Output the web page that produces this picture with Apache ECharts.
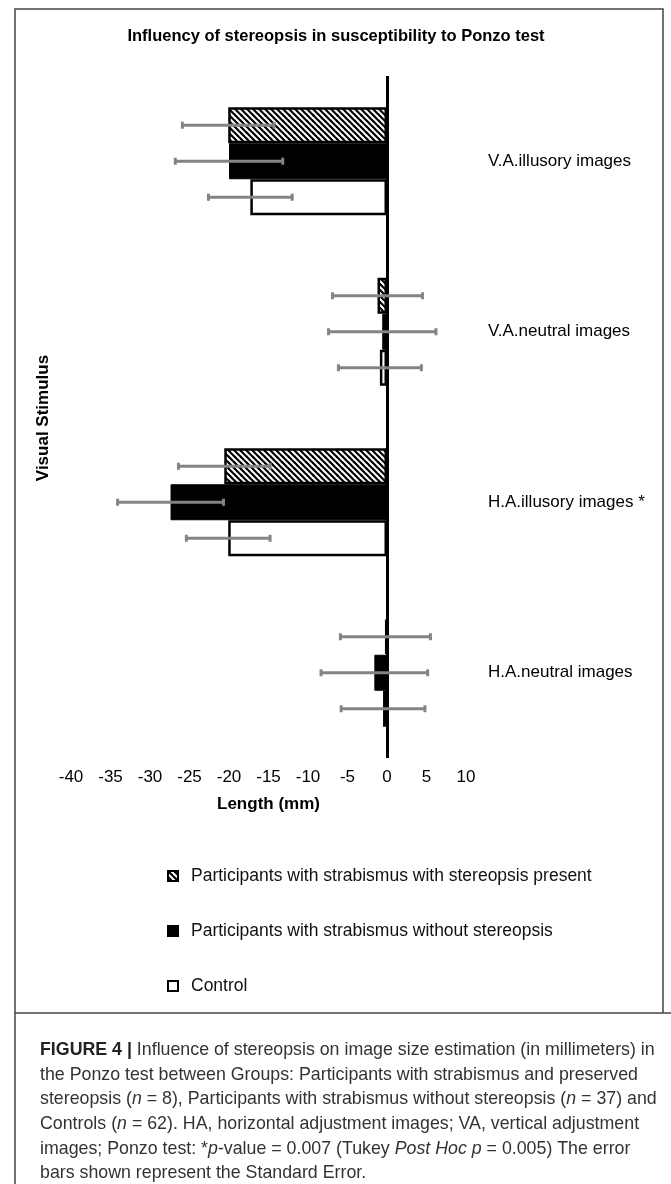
<!DOCTYPE html>
<html><head><meta charset="utf-8">
<script src="https://cdn.jsdelivr.net/npm/echarts@6/dist/echarts.min.js"></script>
<style>html,body{margin:0;padding:0;background:#fff}#c{width:671px;height:1184px}</style>
</head><body><div id="c"></div>
<script>
// ---- data ----
const categories = ['V.A.illusory images', 'V.A.neutral images', 'H.A.illusory images *', 'H.A.neutral images'];
const seriesNames = ['Participants with strabismus with stereopsis present', 'Participants with strabismus without stereopsis', 'Control'];
const stereoPresent = [-20.1, -1.2, -20.6, -0.2];
const stereoAbsent = [-20.0, -0.6, -27.4, -1.6];
const controlVals = [-17.3, -0.9, -20.1, -0.5];
const seStereoPresent = [5.8, 5.7, 5.8, 5.7];
const seStereoAbsent = [6.8, 6.8, 6.7, 6.75];
const seControl = [5.3, 5.25, 5.3, 5.3];
const xMin = -40, xMax = 10, xInterval = 5;

// ---- hatch pattern ----
function makeHatch() {
  const p = 6;
  const cv = document.createElement('canvas');
  cv.width = p; cv.height = p;
  const ctx = cv.getContext('2d');
  ctx.fillStyle = '#fff'; ctx.fillRect(0, 0, p, p);
  ctx.strokeStyle = '#000'; ctx.lineWidth = 2.2;
  for (const x0 of [-p, 0, p]) {
    ctx.beginPath(); ctx.moveTo(x0 - 1, -1); ctx.lineTo(x0 + p + 1, p + 1); ctx.stroke();
  }
  return cv;
}
const hatch = makeHatch();

const BW = 36;
function errSeries(idx, vals, ses) {
  return {
    type: 'custom', silent: true, z: 10,
    renderItem: function (params, api) {
      const cat = api.value(0), v = api.value(1), se = api.value(2);
      const c = api.coord([v, cat]);
      const y = c[1] + (idx - 1) * BW;
      const l = api.coord([v - se, cat])[0], r = api.coord([v + se, cat])[0];
      const h = 3.5;
      const st = { stroke: '#848484', lineWidth: 3 };
      return { type: 'group', children: [
        { type: 'line', shape: { x1: l, y1: y, x2: r, y2: y }, style: st },
        { type: 'line', shape: { x1: l, y1: y - h, x2: l, y2: y + h }, style: st },
        { type: 'line', shape: { x1: r, y1: y - h, x2: r, y2: y + h }, style: st }
      ]};
    },
    encode: { x: 1, y: 0 },
    data: categories.map((c, i) => [i, vals[i], ses[i]])
  };
}

const chart = echarts.init(document.getElementById('c'), null, { renderer: 'canvas' });
const FONT = 'Liberation Sans';
const CF = 17.8;
chart.setOption({
  animation: false,
  backgroundColor: '#fff',
  title: {
    text: 'Influency of stereopsis in susceptibility to Ponzo test',
    left: 331, top: 23, textAlign: 'center',
    textStyle: { fontFamily: FONT, fontSize: 16.5, fontWeight: 'bold', color: '#000' }
  },
  legend: {
    data: seriesNames,
    orient: 'vertical', left: 162, top: 862, itemGap: 37,
    itemWidth: 10, itemHeight: 10, icon: 'rect',
    textStyle: { fontFamily: FONT, fontSize: 17.5, color: '#111', padding: [0, 0, 0, 8] }
  },
  grid: { left: 71, width: 395, top: 76, height: 682, containLabel: false },
  xAxis: {
    type: 'value', min: xMin, max: xMax, interval: xInterval,
    name: 'Length (mm)', nameLocation: 'middle', nameGap: 38,
    nameTextStyle: { fontFamily: FONT, fontSize: 17, fontWeight: 'bold', color: '#000' },
    axisLine: { show: false }, axisTick: { show: false }, splitLine: { show: false },
    axisLabel: { fontFamily: FONT, fontSize: 17, color: '#000', margin: 11 }
  },
  yAxis: {
    type: 'category', data: categories, inverse: true, position: 'right',
    axisLine: { show: false }, axisTick: { show: false }, splitLine: { show: false },
    axisLabel: { fontFamily: FONT, fontSize: 17, color: '#000', margin: 22 }
  },
  series: [
    { type: 'bar', name: seriesNames[0], data: stereoPresent, barWidth: BW, barGap: '0%',
      itemStyle: { color: { image: hatch, repeat: 'repeat' }, borderColor: '#000', borderWidth: 2.5 },
      markLine: { symbol: 'none', silent: true, label: { show: false },
        lineStyle: { color: '#000', width: 3, type: 'solid' }, data: [{ xAxis: 0 }] } },
    { type: 'bar', name: seriesNames[1], data: stereoAbsent, barWidth: BW, barGap: '0%',
      itemStyle: { color: '#000', borderColor: '#000', borderWidth: 1 } },
    { type: 'bar', name: seriesNames[2], data: controlVals, barWidth: BW, barGap: '0%',
      itemStyle: { color: '#fff', borderColor: '#000', borderWidth: 2.5 } },
    errSeries(0, stereoPresent, seStereoPresent),
    errSeries(1, stereoAbsent, seStereoAbsent),
    errSeries(2, controlVals, seControl)
  ],
  graphic: [
    { type: 'text', x: 43, y: 418, rotation: Math.PI / 2,
      style: { text: 'Visual Stimulus', font: 'bold 17px "Liberation Sans"', fill: '#000', align: 'center', verticalAlign: 'middle' } },
    { type: 'polyline', shape: { points: [[15, 1184], [15, 9], [663, 9], [663, 1013]] }, style: { stroke: '#444', lineWidth: 1.5, fill: null } },
    { type: 'line', shape: { x1: 15, y1: 1013, x2: 671, y2: 1013 }, style: { stroke: '#444', lineWidth: 1.5 } },
    { type: 'text', x: 40, y: 1038,
      style: {
        text: '{b|FIGURE 4 |} Influence of stereopsis on image size estimation (in millimeters) in\n' +
              'the Ponzo test between Groups: Participants with strabismus and preserved\n' +
              'stereopsis ({i|n} = 8), Participants with strabismus without stereopsis ({i|n} = 37) and\n' +
              'Controls ({i|n} = 62). HA, horizontal adjustment images; VA, vertical adjustment\n' +
              'images; Ponzo test: *{i|p}-value = 0.007 (Tukey {i|Post Hoc p} = 0.005) The error\n' +
              'bars shown represent the Standard Error.',
        font: CF + 'px "Liberation Sans"', fill: '#333', lineHeight: 24.6,
        rich: {
          b: { font: 'bold ' + CF + 'px "Liberation Sans"', fill: '#222', lineHeight: 24.6 },
          i: { font: 'italic ' + CF + 'px "Liberation Sans"', fill: '#333', lineHeight: 24.6 }
        }
      } }
  ]
});
</script></body></html>
